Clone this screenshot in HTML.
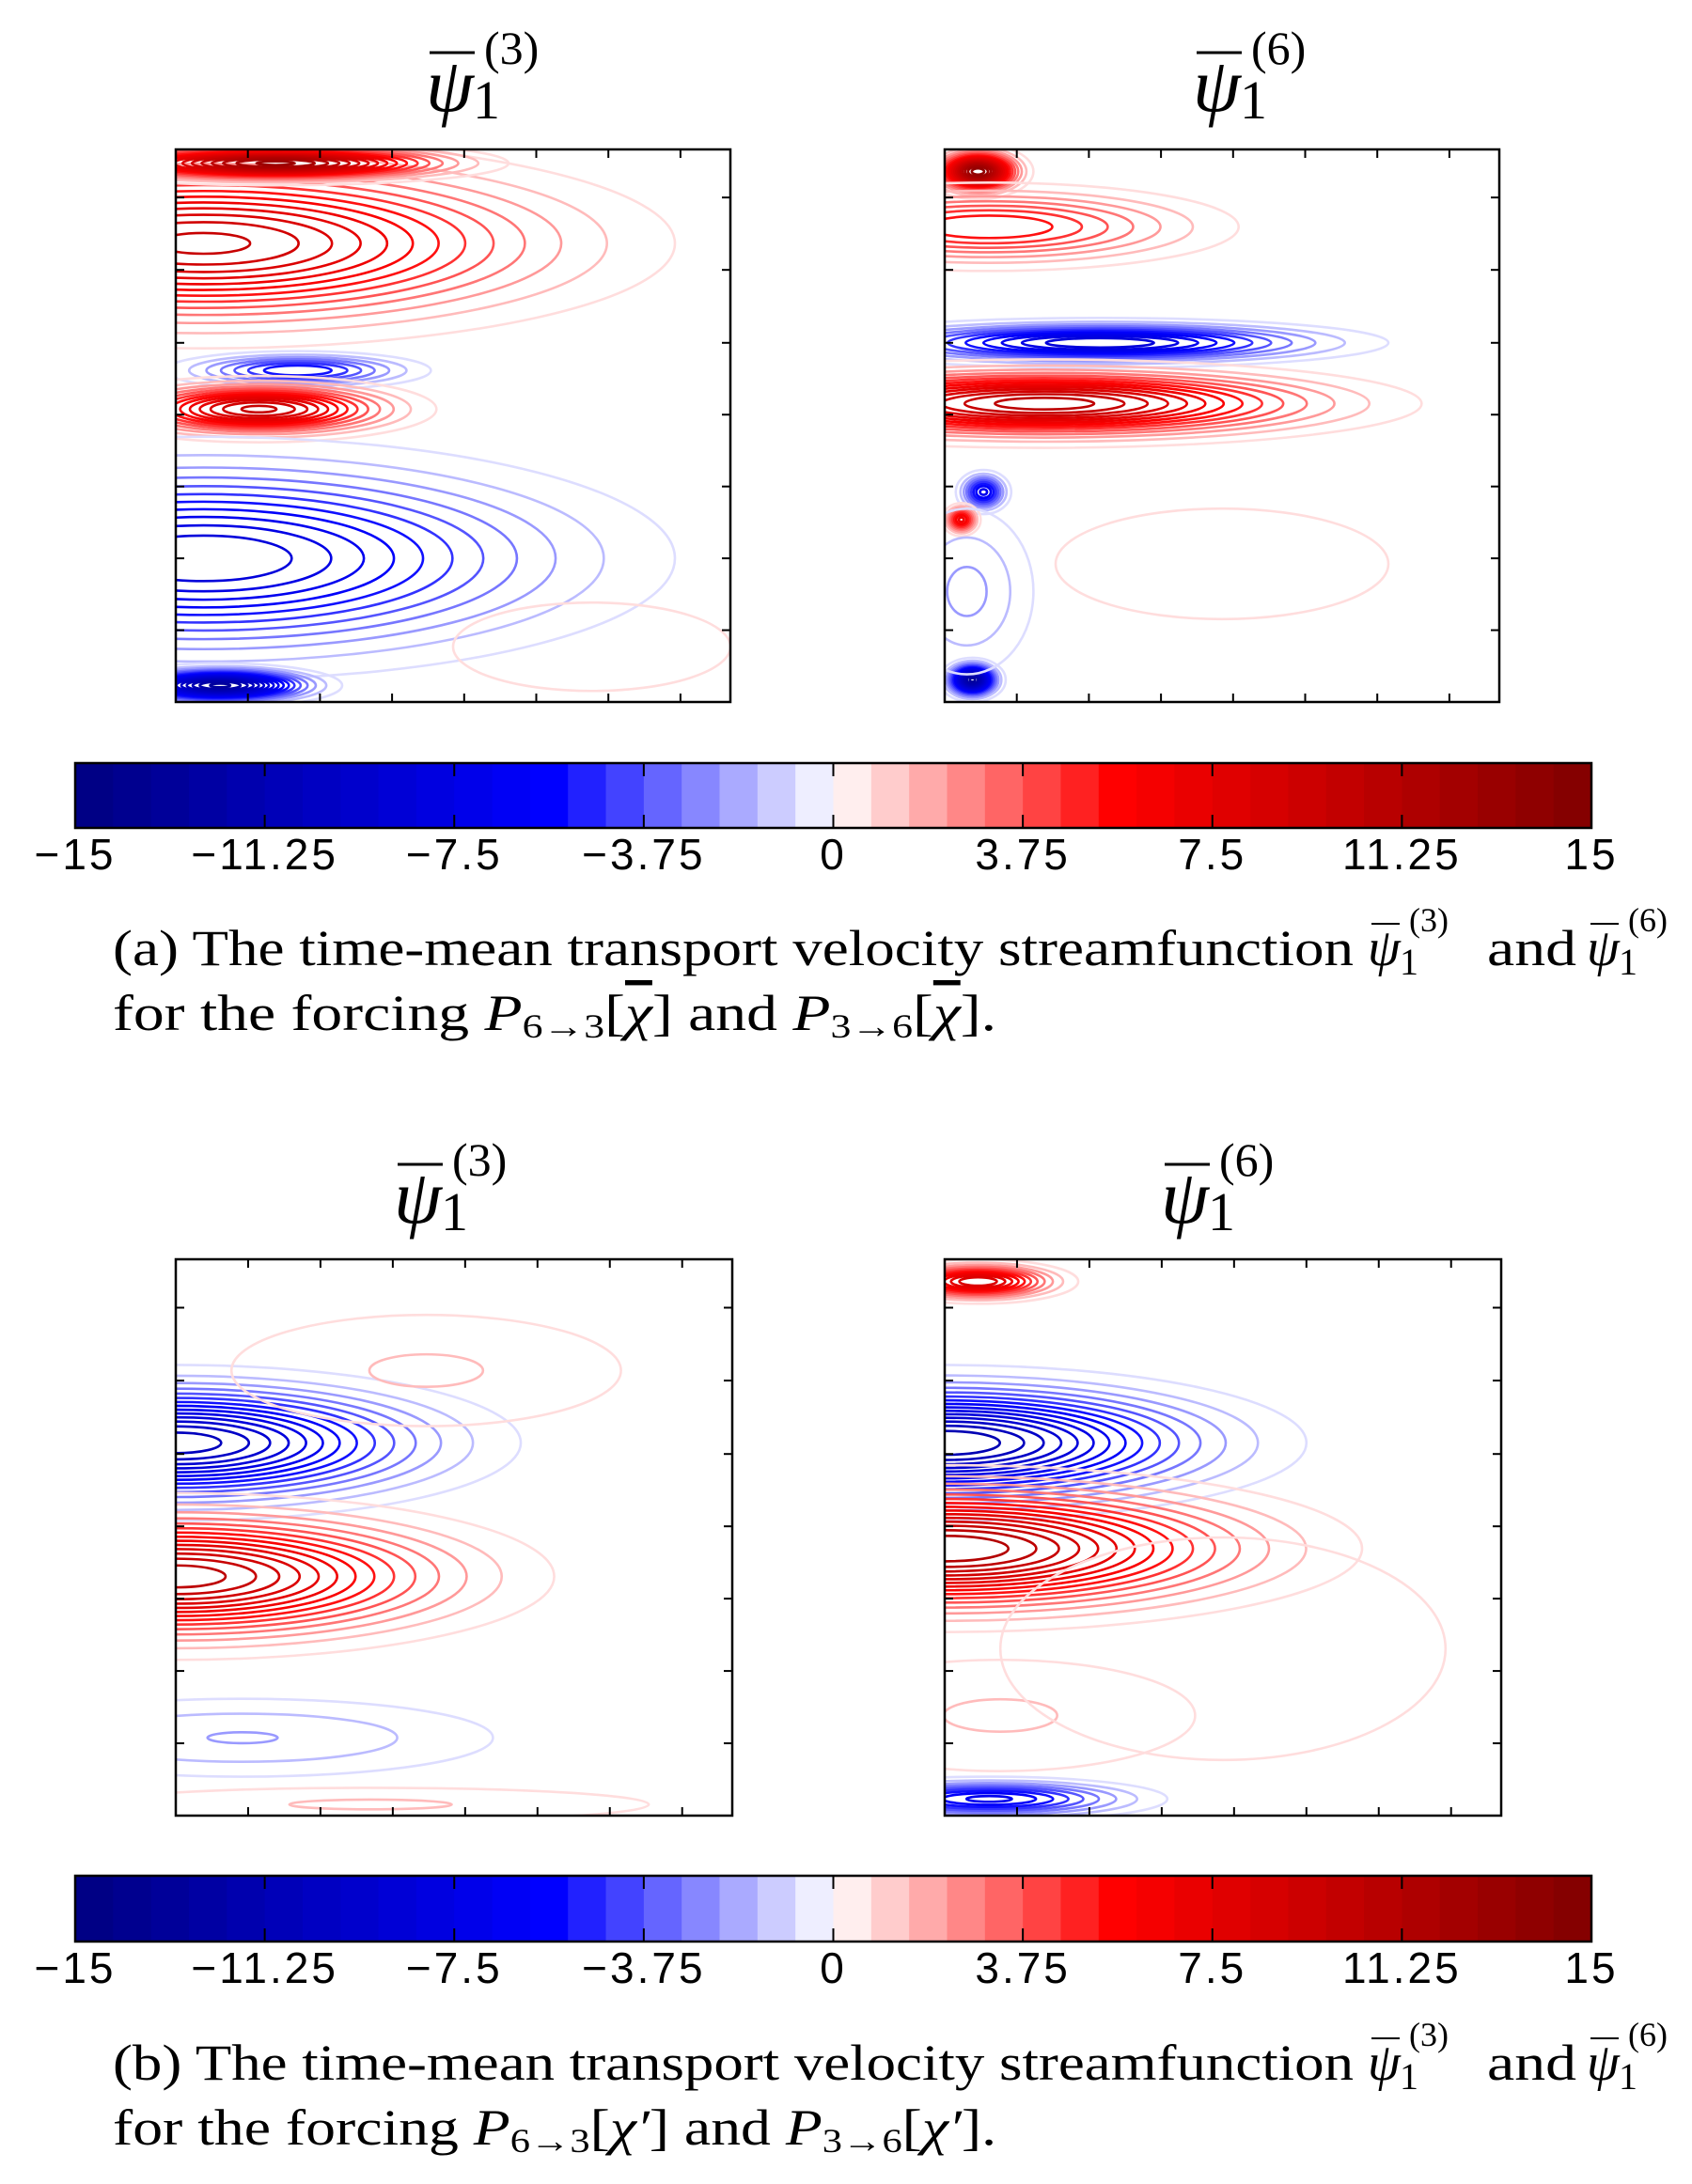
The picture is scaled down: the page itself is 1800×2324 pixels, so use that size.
<!DOCTYPE html>
<html><head><meta charset="utf-8"><style>
html,body{margin:0;padding:0;background:#fff;}
svg{display:block;}
.ser{font-family:"Liberation Serif",serif;}
</style></head><body>
<svg id="fig" width="1800" height="2324" viewBox="0 0 1800 2324" xmlns="http://www.w3.org/2000/svg">
<g id="plots"></g>
<g id="bars"></g>
<g id="texts" class="ser" fill="#000"></g>
</svg>
<script>
// ---- data ----
const cbTicks = [-15, -11.25, -7.5, -3.75, 0, 3.75, 7.5, 11.25, 15];
const cbLabels = ["\u221215", "\u221211.25", "\u22127.5", "\u22123.75", "0", "3.75", "7.5", "11.25", "15"];
const levelStep = 0.75;
const xTickFracs = [0.13, 0.26, 0.39, 0.52, 0.65, 0.78, 0.91];
const yTickFracs = [0.087, 0.218, 0.35, 0.48, 0.61, 0.74, 0.87];
// blobs: [cx, cy, rx, ry, amplitude] in normalized plot coords
const blobsA3 = [[0.05,0.17,0.85,0.19,10],[0.18,0.025,0.42,0.04,13],[0.22,0.40,0.24,0.035,-6],[0.15,0.47,0.32,0.06,10],[0.05,0.74,0.85,0.22,-9],[0.08,0.97,0.22,0.04,-13],[0.75,0.9,0.25,0.08,1]];
const blobsA6 = [[0.06,0.04,0.10,0.05,14],[0.08,0.14,0.45,0.08,6],[0.28,0.35,0.52,0.045,-9],[0.18,0.46,0.68,0.08,11],[0.07,0.62,0.05,0.04,-7],[0.03,0.67,0.035,0.03,7],[0.05,0.96,0.06,0.04,-13],[0.04,0.8,0.12,0.15,-2.5],[0.5,0.75,0.3,0.1,1]];
const blobsB3 = [[0.0,0.33,0.62,0.14,-11],[0.0,0.57,0.68,0.15,11],[0.45,0.2,0.35,0.1,1.6],[0.12,0.86,0.45,0.07,-2.3],[0.35,0.98,0.5,0.03,1.6]];
const blobsB6 = [[0.06,0.04,0.18,0.04,9],[0.0,0.33,0.65,0.14,-12],[0.0,0.52,0.75,0.15,12],[0.08,0.97,0.32,0.04,-7],[0.1,0.82,0.35,0.1,1.6],[0.5,0.7,0.4,0.2,1]];

function cmap(v){
  const t=Math.min(Math.abs(v),15); let a,b;
  if(t<=5.6){const s=t/5.6; a=Math.round(255*(1-s)); b=255;}
  else{const s=(t-5.6)/9.4; a=0; b=Math.round(255-127*s);}
  return v<0?`rgb(${a},${a},${b})`:`rgb(${b},${a},${a})`;
}
const NS="http://www.w3.org/2000/svg";
function mk(tag,attrs,parent){const e=document.createElementNS(NS,tag);for(const k in attrs)e.setAttribute(k,attrs[k]);parent.appendChild(e);return e;}

const plots=document.getElementById('plots');
const panels=[
 {x:187,y:159,w:590,h:588,blobs:blobsA3,name:'plot-a-psi3'},
 {x:1005,y:159,w:590,h:588,blobs:blobsA6,name:'plot-a-psi6'},
 {x:187,y:1340,w:592,h:592,blobs:blobsB3,name:'plot-b-psi3'},
 {x:1005,y:1340,w:592,h:592,blobs:blobsB6,name:'plot-b-psi6'}];
panels.forEach((p,i)=>{
  const g=mk('g',{},plots);
  
  
  const cp=mk('clipPath',{id:'cp'+i},g);
  mk('rect',{x:p.x,y:p.y,width:p.w,height:p.h},cp);
  const cg=mk('g',{'clip-path':`url(#cp${i})`},g);
  p.blobs.forEach(bl=>{
    const [cx,cy,rx,ry,A]=bl; const aa=Math.abs(A), sg=Math.sign(A);
    const den=Math.log(aa/levelStep);
    for(let l=levelStep;l<aa;l+=levelStep){
      const r=den>0?Math.sqrt(Math.log(aa/l)/den):1;
      const e=mk('ellipse',{cx:p.x+cx*p.w,cy:p.y+cy*p.h,rx:rx*p.w*r,ry:ry*p.h*r,fill:'none',stroke:cmap(sg*l),'stroke-width':2.6},cg);
      
      
    }
  });
  const fr=mk('rect',{x:p.x,y:p.y,width:p.w,height:p.h,fill:'none',stroke:'#000','stroke-width':2.5},g);
  
  
  xTickFracs.forEach(f=>{const X=p.x+f*p.w;mk('line',{x1:X,x2:X,y1:p.y+p.h,y2:p.y+p.h-9,stroke:'#000','stroke-width':2},g);mk('line',{x1:X,x2:X,y1:p.y,y2:p.y+9,stroke:'#000','stroke-width':2},g);});
  yTickFracs.forEach(f=>{const Y=p.y+f*p.h;mk('line',{x1:p.x,x2:p.x+9,y1:Y,y2:Y,stroke:'#000','stroke-width':2},g);mk('line',{x1:p.x+p.w,x2:p.x+p.w-9,y1:Y,y2:Y,stroke:'#000','stroke-width':2},g);});
});

// colorbars
const bars=document.getElementById('bars');
[{y:812,h:69,ly:925,n:'a'},{y:1996,h:70,ly:2110,n:'b'}].forEach(cb=>{
  const g=mk('g',{},bars);
  
  
  const x0=80,x1=1693; const sx=v=>x0+(v+15)/30*(x1-x0);
  for(let v=-15;v<15-1e-9;v+=levelStep){
    mk('rect',{x:sx(v),y:cb.y,width:sx(v+levelStep)-sx(v)+0.6,height:cb.h,fill:cmap(v+levelStep/2)},g);
  }
  mk('rect',{x:x0,y:cb.y,width:x1-x0,height:cb.h,fill:'none',stroke:'#000','stroke-width':2.5},g);
  cbTicks.forEach((t,k)=>{
    const X=sx(t);
    mk('line',{x1:X,x2:X,y1:cb.y,y2:cb.y+14,stroke:'#000','stroke-width':2},g);
    mk('line',{x1:X,x2:X,y1:cb.y+cb.h,y2:cb.y+cb.h-14,stroke:'#000','stroke-width':2},g);
    const tx=mk('text',{x:X,y:cb.ly,'text-anchor':'middle','font-size':46,'letter-spacing':3,'font-family':'"Liberation Sans",sans-serif'},g);
    tx.textContent=cbLabels[k];
    
    
  });
});

// titles
const texts=document.getElementById('texts');
function title(x,y,sup,name){
  const g=mk('g',{},texts);
  
  
  mk('line',{x1:x+4,x2:x+52,y1:y-62,y2:y-62,stroke:'#000','stroke-width':3},g);
  const t=mk('text',{x:x,y:y,'font-size':82,'font-style':'italic'},g); t.textContent='\u03C8';
  const s=mk('text',{x:x+50,y:y+8,'font-size':58},g); s.textContent='1';
  const p=mk('text',{x:x+62,y:y-50,'font-size':50},g); p.textContent=sup;
}
title(453,118,'(3)','title-a-psi3');
title(1269,118,'(6)','title-a-psi6');
title(419,1301,'(3)','title-b-psi3');
title(1235,1301,'(6)','title-b-psi6');

function caption(y,lab,chi,name){
  const g=mk('g',{},texts);
  
  
  const t1=mk('text',{x:120,y:y,'font-size':54,textLength:1320,lengthAdjust:'spacingAndGlyphs'},g);
  t1.textContent=`(${lab})  The time-mean transport velocity streamfunction`;
  const psi=(x,sup)=>{
    mk('line',{x1:x+4,x2:x+34,y1:y-44,y2:y-44,stroke:'#000','stroke-width':2},g);
    const a=mk('text',{x:x,y:y,'font-size':56,'font-style':'italic'},g);a.textContent='\u03C8';
    const b=mk('text',{x:x+34,y:y+10,'font-size':40},g);b.textContent='1';
    const c=mk('text',{x:x+44,y:y-36,'font-size':36},g);c.textContent=sup;
  };
  psi(1455,'(3)');
  const and=mk('text',{x:1582,y:y,'font-size':54,textLength:95,lengthAdjust:'spacingAndGlyphs'},g);and.textContent='and';
  psi(1688,'(6)');
  const y2=y+69;
  const t2=mk('text',{x:120,y:y2,'font-size':54,textLength:940,lengthAdjust:'spacingAndGlyphs'},g);
  t2.innerHTML=`for the forcing <tspan font-style="italic">P</tspan><tspan font-size="36" dy="8">6\u21923</tspan><tspan dy="-8">[${chi}] and </tspan><tspan font-style="italic">P</tspan><tspan font-size="36" dy="8">3\u21926</tspan><tspan dy="-8">[${chi}].</tspan>`;
}
caption(1027,'a','<tspan font-style="italic" text-decoration="overline">\u03C7</tspan>','caption-a');
caption(2213,'b','<tspan font-style="italic">\u03C7\u2032</tspan>','caption-b');
</script>
</body></html>
